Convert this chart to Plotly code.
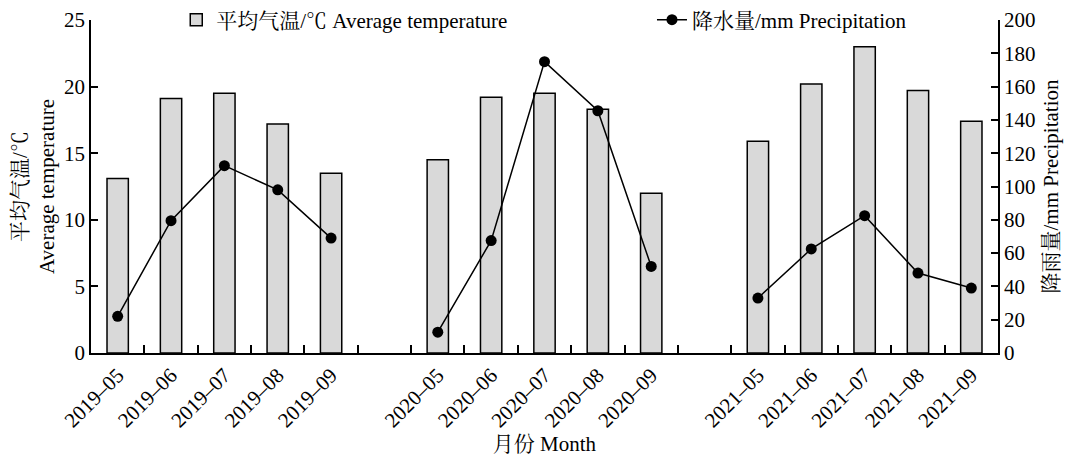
import plotly.graph_objects as go

years = ["2019", "2020", "2021"]
months = ["05", "06", "07", "08", "09"]

temp_2019 = [13.1, 19.1, 19.5, 17.2, 13.5]
temp_2020 = [14.5, 19.2, 19.5, 18.3, 12.0]
temp_2021 = [15.9, 20.2, 23.0, 19.7, 17.4]

prec_2019 = [22, 79.5, 112.5, 98, 69]
prec_2020 = [12.5, 67.5, 175, 145.5, 52]
prec_2021 = [33, 62.5, 82.5, 48, 39]

temps = [temp_2019, temp_2020, temp_2021]
precs = [prec_2019, prec_2020, prec_2021]

# build category list with empty gap categories between years
cats, t_vals, p_vals = [], [], []
for i, y in enumerate(years):
    for j, m in enumerate(months):
        cats.append(f"{y}\u2013{m}")
        t_vals.append(temps[i][j])
        p_vals.append(precs[i][j])
    if i < len(years) - 1:
        cats.append("gap" + str(i))
        t_vals.append(None)
        p_vals.append(None)

tick_text = [c if not c.startswith("gap") else "" for c in cats]

FONT = "Liberation Serif, 'Times New Roman', 'Noto Serif CJK SC', 'Noto Sans CJK SC', serif"
FS = 21

fig = go.Figure()
fig.add_trace(go.Bar(
    x=cats, y=t_vals, name="平均气温/℃ Average temperature",
    marker=dict(color="#d9d9d9", line=dict(color="black", width=1.5)),
    width=0.4, yaxis="y", legend="legend",
))
fig.add_trace(go.Scatter(
    x=cats, y=p_vals, name="降水量/mm Precipitation", mode="lines+markers",
    line=dict(color="black", width=1.5),
    marker=dict(color="black", size=11, symbol="circle"),
    connectgaps=False, yaxis="y2", legend="legend2",
))

fig.update_layout(
    width=1075, height=457,
    margin=dict(l=83, r=85, t=12, b=112, autoexpand=False),
    paper_bgcolor="white", plot_bgcolor="white",
    font=dict(family=FONT, size=FS, color="black"),
    showlegend=True,
    legend=dict(orientation="h", x=0.094, y=1.0, xanchor="left", yanchor="middle",
                bgcolor="rgba(0,0,0,0)", font=dict(size=FS)),
    legend2=dict(orientation="h", x=0.6185, y=1.0, xanchor="left", yanchor="middle",
                 bgcolor="rgba(0,0,0,0)", font=dict(size=FS)),
    xaxis=dict(
        type="category", categoryorder="array", categoryarray=cats,
        tickmode="array", tickvals=cats, ticktext=tick_text,
        range=[-0.5, len(cats) - 0.5], automargin=False,
        tickson="boundaries", ticks="inside", ticklen=8, tickwidth=1.5, tickcolor="black",
        tickangle=-45, showline=True, linecolor="black", linewidth=1.5,
        showgrid=False, zeroline=False,
        title=dict(text="月份 Month", font=dict(size=FS), standoff=4),
        tickfont=dict(size=FS),
    ),
    yaxis=dict(
        range=[0, 25], dtick=5, ticks="inside", ticklen=7, tickwidth=1.5, tickcolor="black",
        showline=True, linecolor="black", linewidth=1.5, showgrid=False, zeroline=False,
        automargin=False,
        title=dict(text="平均气温/℃<br>Average temperature", font=dict(size=FS), standoff=5),
        tickfont=dict(size=FS),
    ),
    yaxis2=dict(
        range=[0, 200], dtick=20, ticks="inside", ticklen=7, tickwidth=1.5, tickcolor="black",
        overlaying="y", side="right", automargin=False,
        showline=True, linecolor="black", linewidth=1.5, showgrid=False, zeroline=False,
        title=dict(text="降雨量/mm Precipitation", font=dict(size=FS), standoff=9),
        tickfont=dict(size=FS),
    ),
)

fig.write_html("out.html")
